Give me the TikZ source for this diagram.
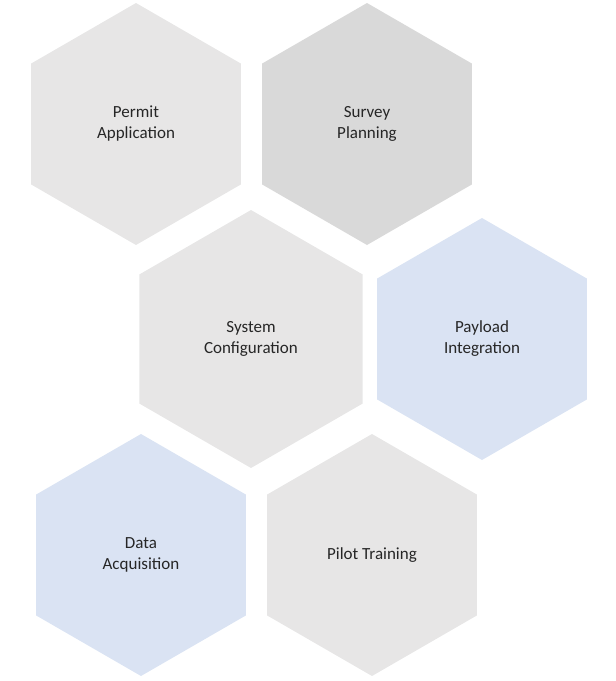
\documentclass[tikz,border=0pt]{standalone}
\usepackage{fontspec}
\setmainfont{Carlito}
\usetikzlibrary{shapes.geometric}
\definecolor{hgray}{HTML}{E7E6E6}
\definecolor{hdark}{HTML}{D9D9D9}
\definecolor{hblue}{HTML}{DAE3F3}
\begin{document}
\begin{tikzpicture}[x=1pt,y=-1pt,
  hex/.style={regular polygon,regular polygon sides=6,rotate=30,minimum size=#1*2pt,inner sep=0pt,draw=none},
  lbl/.style={align=center,font=\fontsize{17}{21}\selectfont,text=black!85}]
\useasboundingbox (0,0) rectangle (616,681);
\node[hex=121,fill=hgray] (h1) at (136,124) {};
\node[hex=121,fill=hdark] (h2) at (367,124) {};
\node[hex=129,fill=hgray] (h3) at (251,339) {};
\node[hex=121,fill=hblue] (h4) at (482,339) {};
\node[hex=121,fill=hblue] (h5) at (141,555) {};
\node[hex=121,fill=hgray] (h6) at (372,555) {};
\node[lbl] at (h1) {Permit\\Application};
\node[lbl] at (h2) {Survey\\Planning};
\node[lbl] at (h3) {System\\Configuration};
\node[lbl] at (h4) {Payload\\Integration};
\node[lbl] at (h5) {Data\\Acquisition};
\node[lbl] at (h6) {Pilot Training};
\end{tikzpicture}
\end{document}
